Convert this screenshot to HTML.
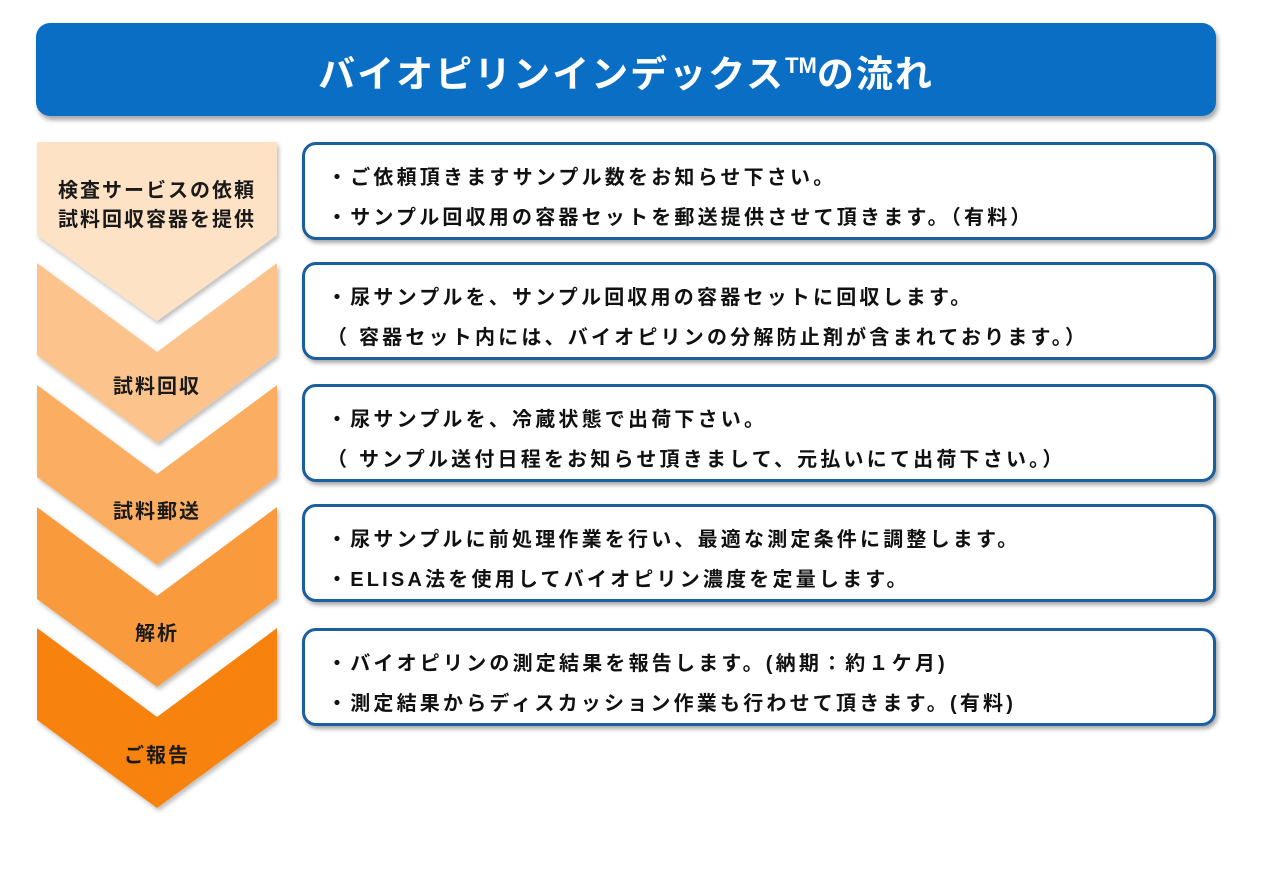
<!DOCTYPE html>
<html><head><meta charset="utf-8"><style>
body{margin:0;width:1265px;height:875px;background:#fff;position:relative;overflow:hidden;font-family:"Liberation Sans","Noto Sans CJK JP",sans-serif;}
.hdr{position:absolute;left:36px;top:23px;width:1180px;height:93px;background:#0a6fc4;border-radius:14px;box-shadow:2px 4px 5px rgba(0,0,0,.35);color:#fff;font-weight:bold;font-size:37px;letter-spacing:2px;text-align:center;line-height:86px;}
.hdr sup{font-family:"Liberation Sans",sans-serif;font-size:22px;letter-spacing:0;vertical-align:14px;}
.box{position:absolute;left:302px;width:908px;height:92px;border:3px solid #1c5f9e;border-radius:14px;background:#fff;box-shadow:2px 3px 4px rgba(0,0,0,.35);}
.t{position:absolute;left:22px;white-space:nowrap;font-size:20px;letter-spacing:3.2px;color:#111;font-weight:bold;}
.lbl{position:absolute;left:37px;width:240px;text-align:center;font-weight:bold;font-size:20px;letter-spacing:2px;color:#1a1a1a;white-space:nowrap;}
</style></head><body>
<div class="hdr">バイオピリンインデックス<sup>TM</sup>の流れ</div>
<svg width="1265" height="875" style="position:absolute;left:0;top:0">
<defs><filter id="s" x="-10%" y="-10%" width="130%" height="130%"><feDropShadow dx="2" dy="3" stdDeviation="2" flood-opacity="0.25"/></filter></defs>
<g filter="url(#s)">
<polygon points="37,142 277,142 277,235 157,321 37,235" fill="#fde2c6"/>
<polygon points="37,263 157,352 277,263 277,355 157,443 37,355" fill="#fcc48c"/>
<polygon points="37,385 157,474 277,385 277,477 157,565 37,477" fill="#fbae62"/>
<polygon points="37,507 157,596 277,507 277,599 157,687 37,599" fill="#f99b3e"/>
<polygon points="37,628 157,717 277,628 277,720 157,808 37,720" fill="#f7820f"/>
</g></svg>
<div class="lbl" style="top:174px">検査サービスの依頼</div>
<div class="lbl" style="top:203px">試料回収容器を提供</div>
<div class="lbl" style="top:370px">試料回収</div>
<div class="lbl" style="top:495px">試料郵送</div>
<div class="lbl" style="top:617px">解析</div>
<div class="lbl" style="top:739px">ご報告</div>

<div class="box" style="top:142px"><div class="t" style="top:16px">・ご依頼頂きますサンプル数をお知らせ下さい。</div><div class="t" style="top:56px">・サンプル回収用の容器セットを郵送提供させて頂きます。（有料）</div></div>
<div class="box" style="top:262px"><div class="t" style="top:16px">・尿サンプルを、サンプル回収用の容器セットに回収します。</div><div class="t" style="top:56px">（ 容器セット内には、バイオピリンの分解防止剤が含まれております。）</div></div>
<div class="box" style="top:384px"><div class="t" style="top:16px">・尿サンプルを、冷蔵状態で出荷下さい。</div><div class="t" style="top:56px">（ サンプル送付日程をお知らせ頂きまして、元払いにて出荷下さい。）</div></div>
<div class="box" style="top:504px"><div class="t" style="top:16px">・尿サンプルに前処理作業を行い、最適な測定条件に調整します。</div><div class="t" style="top:56px">・ELISA法を使用してバイオピリン濃度を定量します。</div></div>
<div class="box" style="top:628px"><div class="t" style="top:16px">・バイオピリンの測定結果を報告します。(納期：約１ケ月)</div><div class="t" style="top:56px">・測定結果からディスカッション作業も行わせて頂きます。(有料)</div></div>
</body></html>
